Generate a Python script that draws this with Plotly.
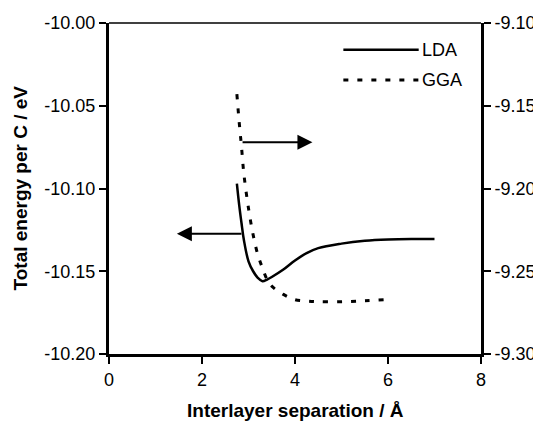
import plotly.graph_objects as go

# Data
lda_x = [2.75, 2.8, 2.85, 2.9, 3.0, 3.1, 3.2, 3.3, 3.4, 3.5, 3.75, 4.0, 4.25, 4.5, 5.0, 5.5, 6.0, 6.5, 7.0]
lda_y = [-10.097, -10.110, -10.121, -10.131, -10.144, -10.150, -10.154, -10.156, -10.155, -10.1535,
         -10.149, -10.1435, -10.139, -10.136, -10.1333, -10.1316, -10.1308, -10.1305, -10.1305]

gga_x = [2.75, 2.8, 2.85, 2.9, 3.0, 3.1, 3.2, 3.3, 3.4, 3.5, 3.75, 4.0, 4.25, 4.5, 5.0, 5.5, 6.0]
gga_y = [-9.143, -9.160, -9.175, -9.191, -9.212, -9.228, -9.240, -9.248, -9.255, -9.259,
         -9.264, -9.2672, -9.268, -9.2684, -9.2684, -9.2678, -9.2670]

x_ticks = [0, 2, 4, 6, 8]
y_left_ticks = [-10.20, -10.15, -10.10, -10.05, -10.00]
y_right_ticks = [-9.30, -9.25, -9.20, -9.15, -9.10]

FONT = "Liberation Sans, Arial, sans-serif"

fig = go.Figure()
fig.add_trace(go.Scatter(x=lda_x, y=lda_y, mode="lines", name="LDA",
                         line=dict(color="black", width=2.5, shape="spline"),
                         yaxis="y", showlegend=False))
fig.add_trace(go.Scatter(x=gga_x, y=gga_y, mode="lines", name="GGA",
                         line=dict(color="black", width=3, dash="5px,9px", shape="spline"),
                         yaxis="y2", showlegend=False))

axis_common = dict(showline=True, linecolor="black", linewidth=3, ticks="outside",
                   ticklen=7, tickwidth=2, tickcolor="black", showgrid=False, zeroline=False,
                   automargin=False,
                   tickfont=dict(family=FONT, size=18, color="black"))

fig.update_layout(
    width=541, height=421,
    margin=dict(l=101, r=68, t=15, b=75, autoexpand=False),
    paper_bgcolor="white", plot_bgcolor="white",
    xaxis=dict(range=[0, 8], tickvals=x_ticks, ticktext=[str(v) for v in x_ticks], **axis_common),
    yaxis=dict(range=[-10.20, -10.00], tickvals=y_left_ticks,
               ticktext=[f"{v:.2f}" for v in y_left_ticks], **axis_common),
    yaxis2=dict(range=[-9.30, -9.10], tickvals=y_right_ticks,
                ticktext=[f"{v:.2f}" for v in y_right_ticks], overlaying="y", side="right",
                **axis_common),
    showlegend=False,
)

# top frame line (thin)
fig.add_shape(type="line", xref="paper", yref="paper", x0=0, x1=1, y0=1, y1=1,
              line=dict(color="black", width=1.5))

# legend drawn manually
fig.add_shape(type="line", xref="x", yref="y", x0=5.04, x1=6.66, y0=-10.0161, y1=-10.0161,
              line=dict(color="black", width=2.5))
fig.add_shape(type="line", xref="x", yref="y", x0=5.04, x1=6.66, y0=-10.0345, y1=-10.0345,
              line=dict(color="black", width=3, dash="5px,9px"))
fig.add_annotation(x=6.68, y=-10.0161, xref="x", yref="y", text="LDA", showarrow=False,
                   xanchor="left", yanchor="middle", font=dict(family=FONT, size=18, color="black"))
fig.add_annotation(x=6.68, y=-10.0345, xref="x", yref="y", text="GGA", showarrow=False,
                   xanchor="left", yanchor="middle", font=dict(family=FONT, size=18, color="black"))

# arrows
fig.add_annotation(x=1.46, y=-10.1274, xref="x", yref="y", ax=2.88, ay=-10.1274,
                   axref="x", ayref="y", text="", showarrow=True, arrowhead=2,
                   arrowsize=1.5, arrowwidth=2, arrowcolor="black")
fig.add_annotation(x=4.375, y=-9.172, xref="x", yref="y2", ax=2.84, ay=-9.172,
                   axref="x", ayref="y2", text="", showarrow=True, arrowhead=2,
                   arrowsize=1.5, arrowwidth=2, arrowcolor="black")

# axis titles
fig.add_annotation(x=0.5, y=0, xref="paper", yref="paper", yshift=-44, text="<b>Interlayer separation / Å</b>",
                   showarrow=False, xanchor="center", yanchor="top",
                   font=dict(family=FONT, size=19, color="black"))
fig.add_annotation(x=0, y=0.5, xref="paper", yref="paper", xshift=-89,
                   text="<b>Total energy per C / eV</b>", textangle=-90,
                   showarrow=False, xanchor="center", yanchor="middle",
                   font=dict(family=FONT, size=19, color="black"))

fig.write_html("out.html")
